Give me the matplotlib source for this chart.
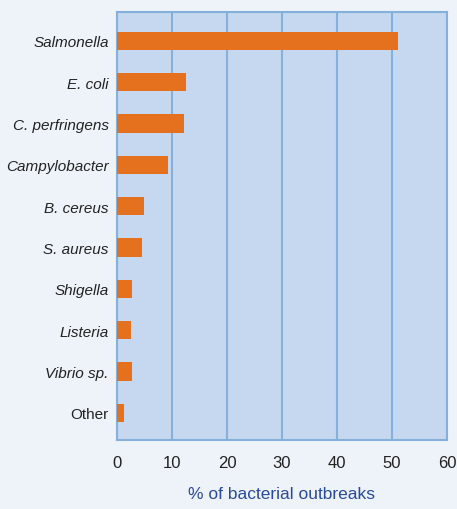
import matplotlib
matplotlib.use('Agg')
import matplotlib.pyplot as plt

# DATA
bacteria = ['Salmonella', 'E. coli', 'C. perfringens', 'Campylobacter', 'B. cereus',
            'S. aureus', 'Shigella', 'Listeria', 'Vibrio sp.', 'Other']
percent = [51.0, 12.5, 12.2, 9.3, 4.9, 4.5, 2.7, 2.5, 2.7, 1.2]
x_ticks = [0, 10, 20, 30, 40, 50, 60]

plt.rcParams['font.family'] = ['Liberation Sans', 'DejaVu Sans']

fig = plt.figure(figsize=(4.57, 5.10), dpi=100, facecolor='#eef3fa')
ax = fig.add_axes([117 / 457, 1 - 441 / 510, 330 / 457, 428 / 510])
ax.set_facecolor('#c5d8ef')

ypos = list(range(len(bacteria)))
ax.barh(ypos, percent, height=0.44, color='#e5711f', zorder=3)

ax.set_xlim(0, 60)
ax.set_ylim(9.66, -0.7)
ax.set_xticks(x_ticks)
ax.set_yticks(ypos)
ax.set_yticklabels(bacteria, style='italic')
for lab in ax.get_yticklabels()[-1:]:
    lab.set_style('normal')
ax.tick_params(length=0, colors='#222222')
ax.tick_params(axis='x', pad=11, labelsize=12)
ax.tick_params(axis='y', pad=6, labelsize=11)

ax.grid(axis='x', color='#86b0dc', linewidth=1.5, zorder=1)
for s in ax.spines.values():
    s.set_color('#86b0dc')
    s.set_linewidth(1.5)

ax.set_xlabel('% of bacterial outbreaks', color='#2a4a9a', fontsize=12.5, labelpad=11)

plt.savefig('out.png', facecolor=fig.get_facecolor())
